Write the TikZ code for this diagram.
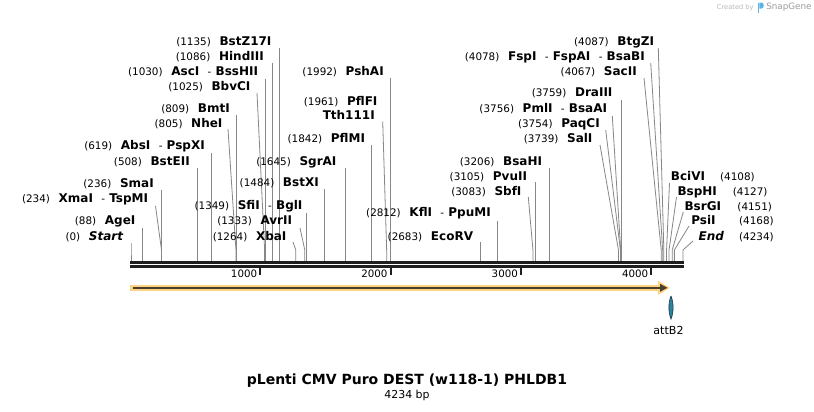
\documentclass[tikz,border=0pt]{standalone}
\usepackage{fontspec}
\setmainfont{DejaVu Sans}
\usetikzlibrary{arrows.meta}
\definecolor{cutgray}{RGB}{135,135,135}
\definecolor{barc}{RGB}{30,30,30}
\definecolor{featO}{RGB}{251,211,130}
\definecolor{featD}{RGB}{75,62,42}
\definecolor{attb}{RGB}{45,130,160}
\definecolor{attbD}{RGB}{30,60,75}
\definecolor{sgGray}{RGB}{185,185,185}
\definecolor{sgBlue}{RGB}{90,180,228}
\newcommand\nm[1]{{\fontsize{7.8}{9}\selectfont\mdseries\upshape #1}}
\newcommand\en[1]{{\fontsize{9}{10}\selectfont\bfseries #1}}
\newcommand\sep{\ \ \nm{-}\ }
\newcommand\LL[5]{\node[lab,anchor=east] (#1) at (#3,#2) {\nm{(#4)}\hspace{6.5pt}\en{#5}};}
\newcommand\RL[6]{\node[lab,anchor=west] (#1) at (#3,#2) {\en{#5}};
  \node[lab,anchor=east] (#1n) at (#6,#2) {\nm{(#4)}};}
\newcommand\cut[4]{%
  \coordinate (#1a) at (#2,#3);
  \coordinate (#1b) at ({131+#4*0.130373},250);
  \coordinate (#1c) at ({131+#4*0.130373},261.2);
  \draw[cutln] (#1a) -- (#1b) -- (#1c);}
\newcommand\cutv[3]{\cut{#1}{131+#3*0.130373}{#2}{#3}}
\begin{document}
\begin{tikzpicture}[x=0.75pt,y=-0.75pt,
  lab/.style={inner sep=0pt,text height=7pt,text depth=2pt},
  cutln/.style={draw=cutgray,line width=0.6pt},
  barln/.style={draw=barc,line width=2pt},
  tickln/.style={draw=barc,line width=1.5pt},
  ticklab/.style={inner sep=0pt,font=\fontsize{7.7}{9}\selectfont},
]
\useasboundingbox[fill=white] (0,0) rectangle (814,411);

% ---- cut site lines
\cutv{start}{243}{0}
\cutv{agei}{228}{88}
\cut{xmai}{155.5}{206}{234}
\cutv{smai}{190}{236}
\cutv{bste}{168}{508}
\cutv{absi}{153}{619}
\cut{nhei}{228}{129}{805}
\cutv{bmti}{115}{809}
\cut{bbvc}{257}{93}{1025}
\cutv{asci}{79}{1030}
\cutv{hind}{63}{1086}
\cutv{bstz}{48}{1135}
\cut{xbai}{293}{242}{1264}
\cut{avr}{300}{228}{1333}
\cutv{sfii}{213}{1349}
\cutv{bstx}{189}{1484}
\cutv{sgra}{168}{1645}
\cutv{pflm}{145}{1842}
\cut{tth}{382.7}{121.5}{1961}
\cutv{psha}{78}{1992}
\cutv{ecorv}{242}{2683}
\cutv{kfli}{221}{2812}
\cut{sbfi}{528.3}{197}{3083}
\cutv{pvu}{182}{3105}
\cutv{bsah}{168}{3206}
\cut{sali}{600}{145}{3739}
\cut{paqc}{605.7}{130}{3754}
\cut{pmli}{612.3}{116}{3756}
\cutv{dra}{100}{3759}
\cut{sacii}{644}{78}{4067}
\cut{fspi}{650.7}{63}{4078}
\cut{btgz}{658.3}{48}{4087}
\cut{bciv}{669.5}{183}{4108}
\cut{bsph}{676.5}{197}{4127}
\cut{bsrg}{683.3}{212}{4151}
\cut{psii}{689}{226}{4168}
\cut{endl}{693}{241}{4234}

% ---- labels, left of their lines
\LL{bstz}{41.7}{271.7}{1135}{BstZ17I}
\LL{hind}{57}{264}{1086}{HindIII}
\LL{asci}{72.3}{258.3}{1030}{AscI\sep BssHII}
\LL{bbvc}{86.7}{250.7}{1025}{BbvCI}
\LL{bmti}{109}{230}{809}{BmtI}
\LL{nhei}{124.3}{222.7}{805}{NheI}
\LL{absi}{146}{205}{619}{AbsI\sep PspXI}
\LL{bste}{162}{190}{508}{BstEII}
\LL{smai}{183.7}{154}{236}{SmaI}
\LL{xmai}{199}{148.3}{234}{XmaI\sep TspMI}
\LL{agei}{221.3}{135.7}{88}{AgeI}
\LL{start}{237}{123.3}{0}{\itshape Start}
\LL{sfii}{206.5}{302.7}{1349}{SfiI\sep BglI}
\LL{avr}{221.5}{292.3}{1333}{AvrII}
\LL{xbai}{237.3}{286.7}{1264}{XbaI}
\LL{bstx}{183.5}{319}{1484}{BstXI}
\LL{sgra}{161.8}{336.7}{1645}{SgrAI}
\LL{pflm}{139}{365.3}{1842}{PflMI}
\LL{pflf}{102}{377.7}{1961}{PflFI}
\node[lab,anchor=east] (tth) at (375,116.5) {\en{Tth111I}};
\LL{psha}{72}{384}{1992}{PshAI}
\LL{kfli}{213.3}{491}{2812}{KflI\sep PpuMI}
\LL{ecorv}{236.8}{473.3}{2683}{EcoRV}
\LL{btgz}{41.7}{654.3}{4087}{BtgZI}
\LL{fspi}{56.8}{645}{4078}{FspI\sep FspAI\sep BsaBI}
\LL{sacii}{71.7}{637}{4067}{SacII}
\LL{dra}{93.3}{612.7}{3759}{DraIII}
\LL{pmli}{109}{607.3}{3756}{PmlI\sep BsaAI}
\LL{paqc}{124.3}{600}{3754}{PaqCI}
\LL{sali}{138.7}{592.7}{3739}{SalI}
\LL{bsah}{162}{542.3}{3206}{BsaHI}
\LL{pvu}{176.7}{527.3}{3105}{PvuII}
\LL{sbfi}{191.7}{521.7}{3083}{SbfI}
% ---- labels, right of their lines
\RL{bciv}{176.7}{670.7}{4108}{BciVI}{755}
\RL{bsph}{191.7}{677.3}{4127}{BspHI}{767.7}
\RL{bsrg}{206.7}{684.3}{4151}{BsrGI}{772.3}
\RL{psii}{221}{691}{4168}{PsiI}{774}
\RL{endl}{237.3}{698.3}{4234}{\itshape End}{774}

% ---- ruler
\coordinate (barL) at (130,262.4);
\coordinate (barR) at (683.5,262.4);
\coordinate (barL2) at (130,266.4);
\coordinate (barR2) at (683.5,266.4);
\draw[barln] (barL) -- (barR);
\draw[barln] (barL2) -- (barR2);
\foreach \k in {1,2,3,4}{
  \coordinate (tk\k) at ({131+\k*130.373-1},267);
  \draw[tickln] (tk\k) -- ++(0,8);
  \node[ticklab,anchor=east] (tl\k) at ({131+\k*130.373-4},274) {\k000};
}

% ---- feature arrow
\coordinate (fL) at (130,287.8);
\coordinate (fR) at (670,287.8);
\coordinate (fL2) at (133,287.8);
\coordinate (fR2) at (667.5,287.8);
\draw[featO,line width=4.3pt,-{Triangle[length=9pt,width=10pt]}] (fL) -- (fR);
\draw[featD,line width=1.3pt,-{Triangle[length=5.5pt,width=5.5pt]}] (fL2) -- (fR2);

% ---- attB2
\filldraw[fill=attb,draw=attbD,line width=0.5pt] (671,296) .. controls (668.2,303) and (668.2,312) .. (671,319) .. controls (673.8,312) and (673.8,303) .. (671,296);
\node[inner sep=0pt,font=\fontsize{8.3}{10}\selectfont] (attb2) at (668.5,330) {attB2};

% ---- title
\node[inner sep=0pt,font=\fontsize{10.5}{12}\selectfont\bfseries] (title) at (407,381) {pLenti CMV Puro DEST (w118-1) PHLDB1};
\node[inner sep=0pt,font=\fontsize{8.2}{10}\selectfont] (bp) at (407,395.5) {4234 bp};

% ---- SnapGene credit
\node[inner sep=0pt,anchor=west,text=sgGray,font=\fontsize{5}{6}\selectfont] (cb) at (716.7,7.5) {Created by};
\fill[sgBlue] (757.5,2.5) rectangle (759.3,12.5);
\fill[sgBlue] (759.3,2.5) -- (761.5,2.5) .. controls (764.5,2.5) and (764.5,8.5) .. (761.5,8.5) -- (759.3,8.5) -- cycle;
\node[inner sep=0pt,anchor=west,text=sgGray!85!black,font=\fontsize{6.6}{8}\selectfont] (sg) at (766,7.5) {SnapGene};
\end{tikzpicture}
\end{document}
